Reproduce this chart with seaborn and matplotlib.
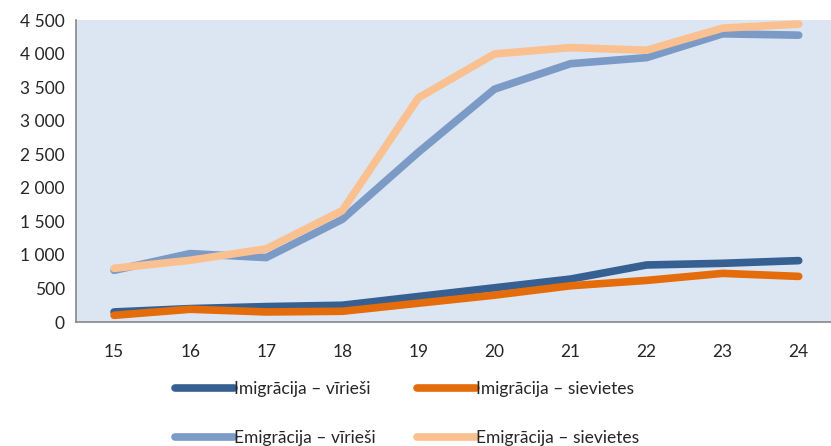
import pandas as pd
import seaborn as sns
import matplotlib.pyplot as plt

# vecums (gadi)
vecums = [15, 16, 17, 18, 19, 20, 21, 22, 23, 24]

imig_v = [150, 200, 230, 250, 380, 510, 640, 850, 875, 915]
imig_s = [100, 190, 150, 160, 280, 400, 540, 620, 725, 680]
emig_v = [770, 1020, 960, 1530, 2530, 3470, 3850, 3940, 4295, 4275]
emig_s = [800, 920, 1090, 1660, 3340, 3995, 4090, 4050, 4380, 4440]

nosaukumi = ["Imigrācija – vīrieši", "Imigrācija – sievietes",
             "Emigrācija – vīrieši", "Emigrācija – sievietes"]
krasas = ["#376092", "#E46C0A", "#7B9BC6", "#FAC090"]

df = pd.DataFrame({"vecums": vecums * 4,
                   "skaits": imig_v + imig_s + emig_v + emig_s,
                   "grupa": sum([[n] * len(vecums) for n in nosaukumi], [])})

sns.set_style("white")
plt.rcParams["font.family"] = ["Lato", "DejaVu Sans"]

fig = plt.figure(figsize=(8.31, 4.46), dpi=100)
ax = fig.add_axes([0.0915, 0.278, 0.909, 0.677])
ax.set_facecolor("#DCE6F2")

sns.lineplot(data=df, x="vecums", y="skaits", hue="grupa", hue_order=nosaukumi,
             palette=krasas, linewidth=5.5, ax=ax, legend=False,
             solid_capstyle="round", solid_joinstyle="round")

ax.set_xlim(14.5, 24.43)
ax.set_ylim(0, 4500)
ax.set_yticks(range(0, 4501, 500))
ax.set_yticklabels([f"{v:,}".replace(",", " ") for v in range(0, 4501, 500)])
ax.set_xticks(vecums)
ax.set_xticks([v - 0.5 for v in vecums], minor=True)
ax.tick_params(axis="x", which="major", length=0, pad=16, labelsize=12.5)
ax.tick_params(axis="x", which="minor", length=5, color="#888888", direction="out")
ax.tick_params(axis="y", length=5, color="#888888", direction="out", labelsize=12.5, pad=3)
ax.set_xlabel("")
ax.set_ylabel("")
for s in ["top", "right"]:
    ax.spines[s].set_visible(False)
for s in ["left", "bottom"]:
    ax.spines[s].set_color("#888888")
    ax.spines[s].set_linewidth(1.2)

# legenda pa rindām
sec = [0, 2, 1, 3]
handles = [plt.Line2D([], [], color=krasas[i], linewidth=5.5, solid_capstyle="round") for i in sec]
fig.legend(handles, [nosaukumi[i] for i in sec], loc="lower center",
           bbox_to_anchor=(0.49, -0.035), ncol=2,
           frameon=False, fontsize=12.5, handlelength=3.4, handletextpad=0.0,
           columnspacing=2.4, labelspacing=1.9)

plt.savefig("out.png", dpi=100)
